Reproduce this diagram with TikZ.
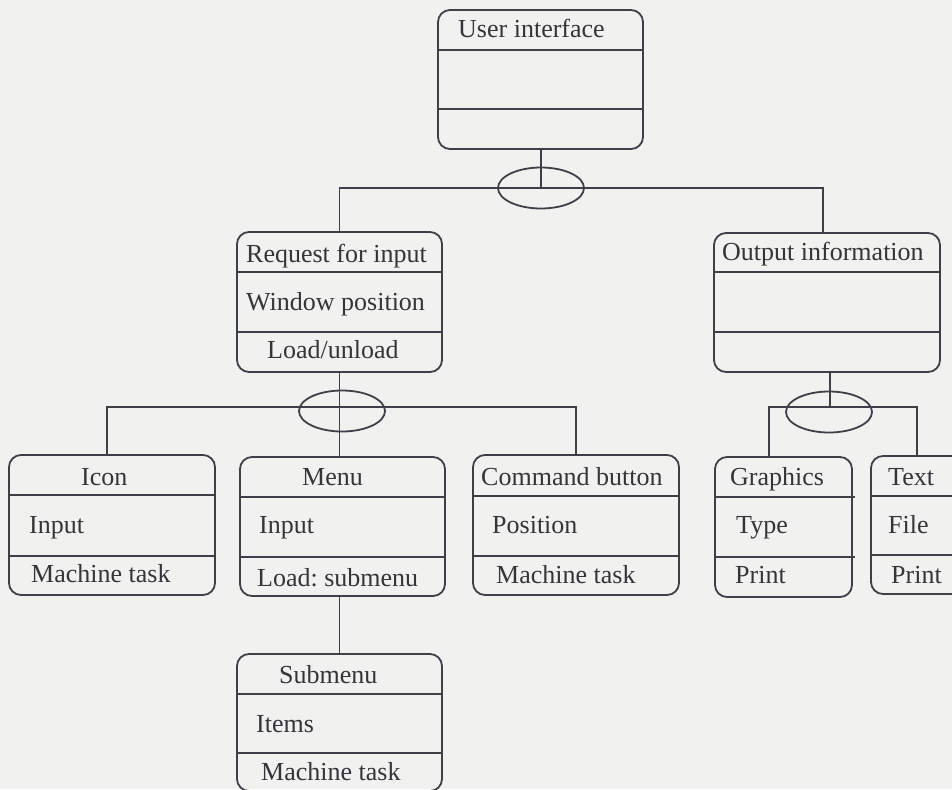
\documentclass[tikz,border=0pt]{standalone}
\usepackage{fontspec}
\setmainfont{Liberation Serif}
\usetikzlibrary{shapes.geometric}
\definecolor{ink}{HTML}{433D4A}
\definecolor{txt}{HTML}{36343A}
\definecolor{paper}{HTML}{F1F1F0}

% class box: name, x1, y1, x2, y2, first divider, second divider
\newcommand\umlclass[7]{%
  \pgfmathsetmacro\cx{(#2+#4)/2}\pgfmathsetmacro\cy{(#3+#5)/2}%
  \pgfmathsetmacro\bw{#4-#2}\pgfmathsetmacro\bh{#5-#3}%
  \node[classbox, minimum width=\bw pt, minimum height=\bh pt] (#1) at (\cx,\cy) {};
  \draw[wire] (#2,#6) -- (#4,#6) (#2,#7) -- (#4,#7);
}

\begin{document}
\frenchspacing
\begin{tikzpicture}[x=1pt,y=-1pt,
  classbox/.style={draw=ink, line width=1.8pt, rounded corners=12pt, rectangle, inner sep=0pt, outer sep=0pt},
  lbl/.style={anchor=base west, inner sep=0pt, text=txt, font=\fontsize{26}{30}\selectfont},
  wire/.style={draw=ink, line width=1.8pt},
  junction/.style={draw=ink, line width=1.8pt, ellipse, minimum width=86pt, minimum height=41pt, inner sep=0pt}
]
\useasboundingbox (0,0) rectangle (952,789);
\fill[paper] (0,0) rectangle (952,789);
\clip (0,0) rectangle (952,789);

% ---- class boxes
\umlclass{ui}{438}{10}{643}{149}{50}{109}
\umlclass{req}{237}{232}{442}{372}{272}{332}
\umlclass{out}{714}{233}{940}{372}{272}{332}
\umlclass{icon}{9}{455}{215}{595}{495}{556}
\umlclass{menu}{240}{457}{445}{596}{497}{557}
\umlclass{cmd}{473}{455}{679}{595}{496}{556}
\umlclass{gr}{715}{457}{852}{597}{497}{557}
\draw[wire] (852,497) -- (855,497) (852,557) -- (855,557);
\umlclass{tx}{871}{456}{1010}{594}{496}{555}
\umlclass{sub}{237}{654}{442}{791}{694}{753}

% ---- labels
\node[lbl] (tUI) at (458,38) {User interface};
\node[lbl] (tReq1) at (246,262) {Request for input};
\node[lbl] (tReq2) at (246,310) {Window position};
\node[lbl] (tReq3) at (267,358) {Load/unload};
\node[lbl] (tOut) at (722,260) {Output information};
\node[lbl] (tIc1) at (81,485) {Icon};
\node[lbl] (tIc2) at (29,533) {Input};
\node[lbl] (tIc3) at (31,582) {Machine task};
\node[lbl] (tMe1) at (302,485) {Menu};
\node[lbl] (tMe2) at (259,533) {Input};
\node[lbl] (tMe3) at (257,586) {Load: submenu};
\node[lbl] (tCm1) at (481,485) {Command button};
\node[lbl] (tCm2) at (492,533) {Position};
\node[lbl] (tCm3) at (496,583) {Machine task};
\node[lbl] (tGr1) at (730,485) {Graphics};
\node[lbl] (tGr2) at (736,533) {Type};
\node[lbl] (tGr3) at (735,583) {Print};
\node[lbl] (tTx1) at (888,485) {Text};
\node[lbl] (tTx2) at (888,533) {File};
\node[lbl] (tTx3) at (891,583) {Print};
\node[lbl] (tSb1) at (279,683) {Submenu};
\node[lbl] (tSb2) at (256,732) {Items};
\node[lbl] (tSb3) at (261,780) {Machine task};

% ---- aggregation junctions
\node[junction] (uiJ) at (541,188) {};
\node[junction] (reqJ) at (342,411) {};
\node[junction] (outJ) at (829,412) {};
\coordinate (reqBar) at (341,407);
\coordinate (outBar) at (830,407);
\coordinate (grTop) at (769,457);
\coordinate (txTop) at (917,456);

% ---- connectors
\draw[wire] (uiJ.center |- ui.south) -- (uiJ.center);
\draw[wire] (req.north) |- (uiJ.center) -| ([xshift=-4pt]out.north);
\draw[wire] (req.south) -- (req.south |- menu.north);
\draw[wire] ([xshift=-5pt]icon.north) |- (reqBar) -| (cmd.north);
\draw[wire] (outBar |- out.south) -- (outBar);
\draw[wire] (grTop) |- (outBar) -| (txTop);
\draw[wire] (sub.north |- menu.south) -- (sub.north);
\end{tikzpicture}
\end{document}
